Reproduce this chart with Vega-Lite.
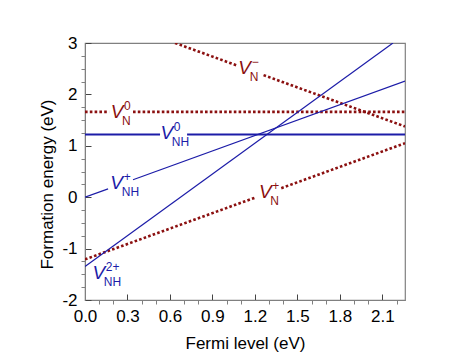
{
  "$schema": "https://vega.github.io/schema/vega-lite/v6.json",
  "width": 320,
  "height": 257,
  "autosize": "none",
  "padding": {"left": 85, "top": 43, "right": 66, "bottom": 59},
  "background": "white",
  "config": {
    "font": "Liberation Sans",
    "view": {"stroke": "#808080", "strokeWidth": 1.2},
    "axis": {"grid": false, "labelFont": "Liberation Sans", "titleFont": "Liberation Sans", "labelColor": "#000", "titleColor": "#000", "labelFontSize": 17, "titleFontSize": 17, "titleFontWeight": "normal", "domainColor": "#808080", "tickColor": "#444", "labelFlush": false}
  },
  "datasets": {
    "lines": [
      {"defect": "NH0", "family": "NH", "seg": "NH0a", "x": 0, "y": 1.22},
      {"defect": "NH0", "family": "NH", "seg": "NH0a", "x": 0.53, "y": 1.22},
      {"defect": "NH0", "family": "NH", "seg": "NH0b", "x": 0.721, "y": 1.22},
      {"defect": "NH0", "family": "NH", "seg": "NH0b", "x": 2.26, "y": 1.22},
      {"defect": "NH+", "family": "NH", "seg": "NHpa", "x": 0, "y": 0},
      {"defect": "NH+", "family": "NH", "seg": "NHpa", "x": 0.163, "y": 0.163},
      {"defect": "NH+", "family": "NH", "seg": "NHpb", "x": 0.339, "y": 0.339},
      {"defect": "NH+", "family": "NH", "seg": "NHpb", "x": 2.26, "y": 2.26},
      {"defect": "NH2+", "family": "NH", "seg": "NH2a", "x": 0, "y": -1.35},
      {"defect": "NH2+", "family": "NH", "seg": "NH2a", "x": 2.175, "y": 3.0},
      {"defect": "N0", "family": "N", "seg": "N0a", "x": 0, "y": 1.66},
      {"defect": "N0", "family": "N", "seg": "N0a", "x": 0.17, "y": 1.66},
      {"defect": "N0", "family": "N", "seg": "N0b", "x": 0.339, "y": 1.66},
      {"defect": "N0", "family": "N", "seg": "N0b", "x": 2.26, "y": 1.66},
      {"defect": "N-", "family": "N", "seg": "Nma", "x": 0.636, "y": 3.0},
      {"defect": "N-", "family": "N", "seg": "Nma", "x": 1.073, "y": 2.563},
      {"defect": "N-", "family": "N", "seg": "Nmb", "x": 1.261, "y": 2.375},
      {"defect": "N-", "family": "N", "seg": "Nmb", "x": 2.26, "y": 1.376},
      {"defect": "N+", "family": "N", "seg": "Npa", "x": 0, "y": -1.21},
      {"defect": "N+", "family": "N", "seg": "Npa", "x": 1.202, "y": -0.008},
      {"defect": "N+", "family": "N", "seg": "Npb", "x": 1.386, "y": 0.176},
      {"defect": "N+", "family": "N", "seg": "Npb", "x": 2.26, "y": 1.05}
    ],
    "labels": [
      {"family": "N", "main": "V", "sub": "N", "sup": "0", "x": 0.226, "y": 1.66},
      {"family": "NH", "main": "V", "sub": "NH", "sup": "0", "x": 0.578, "y": 1.25},
      {"family": "NH", "main": "V", "sub": "NH", "sup": "+", "x": 0.224, "y": 0.276},
      {"family": "N", "main": "V", "sub": "N", "sup": "−", "x": 1.128, "y": 2.514},
      {"family": "N", "main": "V", "sub": "N", "sup": "+", "x": 1.273, "y": 0.107},
      {"family": "NH", "main": "V", "sub": "NH", "sup": "2+", "x": 0.097, "y": -1.475}
    ]
  },
  "resolve": {"axis": {"x": "independent", "y": "independent"}},
  "layer": [
    {
      "data": {"name": "lines"},
      "transform": [{"filter": "datum.family == 'N'"}],
      "mark": {"type": "line", "color": "#8b1010", "strokeWidth": 2.6, "strokeDash": [2.6, 2.2], "clip": true},
      "encoding": {
        "x": {"field": "x", "type": "quantitative", "scale": {"domain": [0, 2.26], "nice": false, "zero": false},
          "axis": {"orient": "bottom", "values": [0, 0.3, 0.6, 0.9, 1.2, 1.5, 1.8, 2.1], "format": ".1f", "tickSize": -6, "labelPadding": 14, "labelFontSize": 17, "labelFlush": false, "title": "Fermi level (eV)", "titleFontSize": 17, "titleY": 43, "titleBaseline": "middle"}},
        "y": {"field": "y", "type": "quantitative", "scale": {"domain": [-2, 3], "nice": false, "zero": false},
          "axis": {"orient": "left", "values": [-2, -1, 0, 1, 2, 3], "format": "d", "labelExpr": "replace(datum.label, '−', '-')", "tickSize": -6, "labelPadding": 14, "labelFontSize": 17, "labelFlush": false, "title": "Formation energy (eV)", "titleFontSize": 17, "titleX": -37.5, "titleY": 141, "titleBaseline": "middle"}},
        "detail": {"field": "seg"}
      }
    },
    {
      "data": {"name": "lines"},
      "transform": [{"filter": "datum.defect == 'NH0'"}],
      "mark": {"type": "line", "color": "#1c1ca8", "strokeWidth": 2},
      "encoding": {
        "x": {"field": "x", "type": "quantitative", "axis": {"orient": "bottom", "values": [0.1, 0.2, 0.4, 0.5, 0.7, 0.8, 1.0, 1.1, 1.3, 1.4, 1.6, 1.7, 1.9, 2.0, 2.2], "labels": false, "domain": false, "tickSize": 4, "tickColor": "#808080", "title": null}},
        "y": {"field": "y", "type": "quantitative", "axis": {"orient": "left", "values": [-1.75, -1.5, -1.25, -0.75, -0.5, -0.25, 0.25, 0.5, 0.75, 1.25, 1.5, 1.75, 2.25, 2.5, 2.75], "labels": false, "domain": false, "tickSize": 4, "tickColor": "#808080", "title": null}},
        "detail": {"field": "seg"}
      }
    },
    {
      "data": {"name": "lines"},
      "transform": [{"filter": "datum.family == 'NH' && datum.defect != 'NH0'"}],
      "mark": {"type": "line", "color": "#1c1ca8", "strokeWidth": 1.2, "clip": true},
      "encoding": {
        "x": {"field": "x", "type": "quantitative", "axis": null},
        "y": {"field": "y", "type": "quantitative", "axis": null},
        "detail": {"field": "seg"}
      }
    },
    {
      "data": {"name": "labels"},
      "mark": {"type": "text", "fontSize": 19, "fontStyle": "italic", "align": "center", "baseline": "middle"},
      "encoding": {
        "x": {"field": "x", "type": "quantitative", "axis": null},
        "y": {"field": "y", "type": "quantitative", "axis": null},
        "text": {"field": "main"},
        "color": {"field": "family", "type": "nominal", "scale": {"domain": ["N", "NH"], "range": ["#8b1010", "#1c1ca8"]}, "legend": null}
      }
    },
    {
      "data": {"name": "labels"},
      "mark": {"type": "text", "fontSize": 12, "align": "left", "baseline": "middle", "dx": 5, "dy": 9},
      "encoding": {
        "x": {"field": "x", "type": "quantitative", "axis": null},
        "y": {"field": "y", "type": "quantitative", "axis": null},
        "text": {"field": "sub"},
        "color": {"field": "family", "type": "nominal", "legend": null}
      }
    },
    {
      "data": {"name": "labels"},
      "mark": {"type": "text", "fontSize": 12, "align": "left", "baseline": "middle", "dx": 7, "dy": -6},
      "encoding": {
        "x": {"field": "x", "type": "quantitative", "axis": null},
        "y": {"field": "y", "type": "quantitative", "axis": null},
        "text": {"field": "sup"},
        "color": {"field": "family", "type": "nominal", "legend": null}
      }
    }
  ]
}
